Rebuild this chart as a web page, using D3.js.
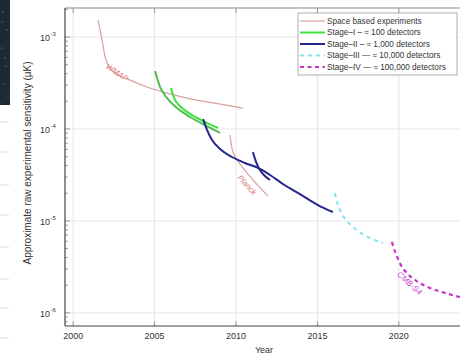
<!DOCTYPE html>
<html><head><meta charset="utf-8">
<script src="https://cdn.jsdelivr.net/npm/d3@7"></script>
<style>body{margin:0;background:#fff}svg{display:block;font-family:"Liberation Sans",Arial,sans-serif}</style>
</head><body><svg id="c" width="460" height="354"></svg>
<script>
// ---- data ----
const xTicks = [2000, 2005, 2010, 2015, 2020];
const yTicks = [1e-6, 1e-5, 1e-4, 1e-3];
const yTickExp = ["-6", "-5", "-4", "-3"];
const legendLabels = ["Space based experiments", "Stage\u2013I \u2013 \u2248 100 detectors", "Stage\u2013II \u2013 \u2248 1,000 detectors", "Stage\u2013III \u2014 \u2248 10,000 detectors", "Stage\u2013IV \u2014 \u2248 100,000 detectors"];
const wmapYears = [2001.53, 2001.78, 2001.96, 2002.45, 2003.5, 2004.54, 2005.77, 2007.0, 2008.6, 2010.43];
const wmapVals = [1.53e-3, 9.3e-4, 6.1e-4, 4.2e-4, 3.4e-4, 2.86e-4, 2.46e-4, 2.17e-4, 1.92e-4, 1.69e-4];
const planckYears = [2009.63, 2009.75, 2010.0, 2010.43, 2011.04, 2011.96];
const planckVals = [8.6e-5, 6.2e-5, 4.8e-5, 3.77e-5, 2.79e-5, 1.87e-5];
const stage1aYears = [2005.03, 2005.34, 2005.77, 2006.38, 2007.18, 2008.1, 2009.02];
const stage1aVals = [4.26e-4, 2.86e-4, 2.17e-4, 1.69e-4, 1.35e-4, 1.10e-4, 9.05e-5];
const stage1bYears = [2006.01, 2006.2, 2006.56, 2007.18, 2007.98, 2008.9];
const stage1bVals = [2.79e-4, 2.17e-4, 1.78e-4, 1.46e-4, 1.22e-4, 1.03e-4];
const stage2aYears = [2007.98, 2008.22, 2008.53, 2009.02, 2009.75, 2010.55, 2011.35, 2012.09, 2012.88, 2013.93, 2015.03, 2015.95];
const stage2aVals = [1.28e-4, 9.8e-5, 7.6e-5, 6.06e-5, 4.96e-5, 4.27e-5, 3.77e-5, 3.16e-5, 2.52e-5, 1.96e-5, 1.49e-5, 1.25e-5];
const stage2bYears = [2011.04, 2011.23, 2011.47, 2011.78, 2012.09];
const stage2bVals = [5.6e-5, 4.4e-5, 3.58e-5, 3.08e-5, 2.79e-5];
const stage3Years = [2016.07, 2016.2, 2016.44, 2016.87, 2017.48, 2018.22, 2019.02];
const stage3Vals = [2.01e-5, 1.61e-5, 1.25e-5, 9.76e-6, 7.79e-6, 6.53e-6, 5.76e-6];
const stage4Years = [2019.57, 2019.82, 2020.12, 2020.55, 2021.17, 2021.9, 2022.82, 2023.74, 2024.0];
const stage4Vals = [5.91e-6, 4.38e-6, 3.32e-6, 2.65e-6, 2.17e-6, 1.87e-6, 1.65e-6, 1.49e-6, 1.46e-6];

const svg = d3.select("#c");
const x = d3.scaleLinear().domain([1999.5, 2024]).range([65, 464]);
const y = d3.scaleLog().domain([7.2e-7, 2.07e-3]).range([326, 8]);

// background artifacts (cropped screenshot)
svg.append("rect").attr("x", 0).attr("y", 0).attr("width", 10).attr("height", 105).attr("fill", "#1e2a33");
const stars = [[3,12],[7,30],[2,48],[6,66],[4,84],[8,96],[2,22],[5,58]];
svg.selectAll(".star").data(stars).join("circle").attr("cx", d => d[0]).attr("cy", d => d[1]).attr("r", 0.6).attr("fill", "#8aa");
svg.selectAll(".bgl").data([122, 152, 185, 215, 247, 279, 308, 338]).join("line")
  .attr("x1", 0).attr("x2", 9).attr("y1", d => d).attr("y2", d => d).attr("stroke", "#d8dde2").attr("stroke-width", 1);

const g = svg.append("g");
// grid
g.selectAll(".gx").data(xTicks).join("line").attr("x1", d => x(d)).attr("x2", d => x(d)).attr("y1", 8).attr("y2", 326).attr("stroke", "#e6e6e6");
g.selectAll(".gy").data(yTicks).join("line").attr("x1", 65).attr("x2", 460).attr("y1", d => y(d)).attr("y2", d => y(d)).attr("stroke", "#e6e6e6");

// minor ticks on y
const minor = [];
for (let e = -7; e <= -3; e++) for (let m = 1; m <= 9; m++) { const v = m * Math.pow(10, e); if (v >= 7.2e-7 && v <= 2.07e-3) minor.push({v, major: m === 1}); }
g.selectAll(".mt").data(minor).join("line").attr("x1", 65).attr("x2", d => d.major ? 70 : 68).attr("y1", d => y(d.v)).attr("y2", d => y(d.v)).attr("stroke", "#777").attr("stroke-width", 0.7);
g.selectAll(".xt").data(xTicks).join("line").attr("x1", d => x(d)).attr("x2", d => x(d)).attr("y1", 326).attr("y2", 321).attr("stroke", "#777").attr("stroke-width", 0.7);
g.selectAll(".xt2").data(xTicks).join("line").attr("x1", d => x(d)).attr("x2", d => x(d)).attr("y1", 8).attr("y2", 13).attr("stroke", "#777").attr("stroke-width", 0.7);

// frame
g.append("line").attr("x1", 65).attr("x2", 460).attr("y1", 8).attr("y2", 8).attr("stroke", "#888");
g.append("line").attr("x1", 65).attr("x2", 65).attr("y1", 8).attr("y2", 326).attr("stroke", "#444").attr("stroke-width", 1.2);
g.append("line").attr("x1", 65).attr("x2", 460).attr("y1", 326).attr("y2", 326).attr("stroke", "#444").attr("stroke-width", 1.2);

// tick labels
const yl = g.selectAll(".yl").data(yTicks).join("text").attr("x", 50).attr("y", d => y(d) + 4)
  .attr("text-anchor", "end").attr("font-size", 9).attr("fill", "#333");
yl.append("tspan").text("10");
g.selectAll(".ye").data(yTicks).join("text").attr("x", 50.5).attr("y", d => y(d) - 1).attr("font-size", 6).attr("fill", "#333").text((d, i) => yTickExp[i]);
g.selectAll(".xl").data(xTicks).join("text").attr("x", d => x(d)).attr("y", 339).attr("text-anchor", "middle").attr("font-size", 9).attr("fill", "#333").text(d => d);
svg.append("text").attr("x", 264).attr("y", 353).attr("text-anchor", "middle").attr("font-size", 9).attr("fill", "#333").text("Year");
svg.append("text").attr("transform", "translate(31,163) rotate(-90)").attr("text-anchor", "middle").attr("font-size", 10).attr("fill", "#333").text("Approximate raw experimental sensitivity (\u03bcK)");

// curves
const line = d3.line().x(d => x(d[0])).y(d => y(d[1])).curve(d3.curveMonotoneX);
const zip = (a, b) => a.map((v, i) => [v, b[i]]);
const curves = [
  {d: zip(wmapYears, wmapVals), c: "#d9a0a0", w: 1.2},
  {d: zip(planckYears, planckVals), c: "#d9a0a0", w: 1.2},
  {d: zip(stage1aYears, stage1aVals), c: "#4fbf4f", w: 2},
  {d: zip(stage1bYears, stage1bVals), c: "#3ee03e", w: 2},
  {d: zip(stage2aYears, stage2aVals), c: "#24248f", w: 2},
  {d: zip(stage2bYears, stage2bVals), c: "#24248f", w: 2},
  {d: zip(stage3Years, stage3Vals), c: "#7fe6ee", w: 2, dash: "4,4"},
  {d: zip(stage4Years, stage4Vals), c: "#c837c8", w: 2.2, dash: "4,3.5"}
];
const clip = svg.append("clipPath").attr("id", "pc").append("rect").attr("x", 65).attr("y", 8).attr("width", 400).attr("height", 318);
const cg = svg.append("g").attr("clip-path", "url(#pc)");
cg.selectAll(".cv").data(curves).join("path").attr("d", d => line(d.d)).attr("fill", "none")
  .attr("stroke", d => d.c).attr("stroke-width", d => d.w).attr("stroke-dasharray", d => d.dash || null);

// curve labels
svg.append("text").attr("transform", `translate(${x(2002.6)},${y(3.9e-4)}) rotate(34)`).attr("text-anchor", "middle").attr("font-size", 8).attr("fill", "#d77").attr("font-style", "italic").text("WMAP");
svg.append("text").attr("transform", `translate(${x(2010.55)},${y(2.35e-5)}) rotate(48)`).attr("text-anchor", "middle").attr("font-size", 8).attr("fill", "#d77").attr("font-style", "italic").text("Planck");
svg.append("text").attr("transform", `translate(${x(2020.55)},${y(2.0e-6)}) rotate(42)`).attr("text-anchor", "middle").attr("font-size", 8).attr("fill", "#c837c8").attr("font-style", "italic").text("CMB-S4");

// legend
const lg = svg.append("g");
lg.append("rect").attr("x", 298).attr("y", 13).attr("width", 159).attr("height", 62).attr("fill", "#fff").attr("stroke", "#999").attr("stroke-width", 0.8);
const lItems = curves.filter((c, i) => [0, 3, 4, 6, 7].includes(i));
lItems.forEach((c, i) => {
  const yy = 21 + i * 11.5;
  lg.append("line").attr("x1", 300).attr("x2", 325).attr("y1", yy).attr("y2", yy).attr("stroke", c.c).attr("stroke-width", c.w).attr("stroke-dasharray", c.dash || null);
  lg.append("text").attr("x", 327).attr("y", yy + 2.8).attr("font-size", 8.2).attr("fill", "#333").text(legendLabels[i]);
});
</script></body></html>
